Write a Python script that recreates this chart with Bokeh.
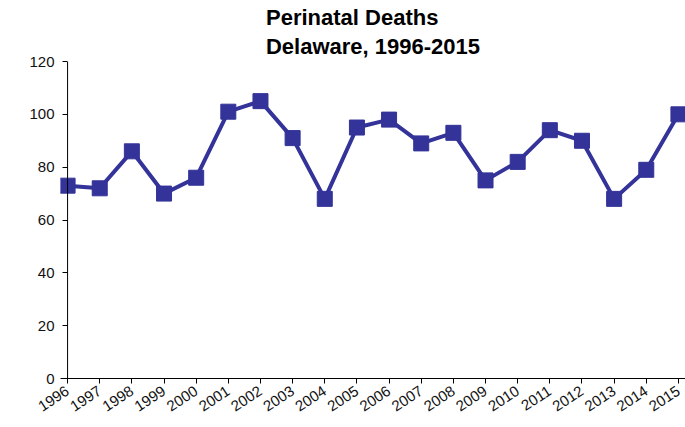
import math
from bokeh.plotting import figure
from bokeh.models import Range1d, FixedTicker, Span, ColumnDataSource
from bokeh.embed import file_html
from bokeh.resources import INLINE

years = list(range(1996, 2016))
deaths = [73, 72, 86, 70, 76, 101, 105, 91, 68, 95, 98, 89, 93, 75, 82, 94, 90, 68, 79, 100]
y_ticks = [0, 20, 40, 60, 80, 100, 120]

COLOR = "#333399"
FONT = "Liberation Sans"
PAD = 0.22

src = ColumnDataSource(dict(year=years, deaths=deaths))

p = figure(width=685, height=427, output_backend="svg", toolbar_location=None,
           x_range=Range1d(years[0] - PAD, years[-1] + PAD), y_range=Range1d(0, 120),
           min_border_left=60, min_border_right=0, min_border_top=0, min_border_bottom=49)

p.title.text = "Perinatal Deaths\nDelaware, 1996-2015"
p.title.align = "center"
p.title.text_font = FONT
p.title.text_font_size = "22px"
p.title.text_font_style = "bold"
p.title.text_color = "black"
p.title.text_line_height = 1.15
p.title.standoff = 5
p.title.offset = 0

p.line("year", "deaths", source=src, line_color=COLOR, line_width=4)
p.scatter("year", "deaths", source=src, marker="square", size=15,
          fill_color=COLOR, line_color=COLOR)

p.xgrid.visible = False
p.ygrid.visible = False
p.outline_line_color = None

# x axis
p.xaxis.ticker = FixedTicker(ticks=years)
p.xaxis.minor_tick_line_color = None
p.xaxis.major_tick_in = 0
p.xaxis.major_tick_out = 5
p.xaxis.major_label_orientation = 0.58
p.xaxis.major_label_text_font = FONT
p.xaxis.major_label_text_font_size = "15px"
p.xaxis.major_label_text_color = "#111111"
p.xaxis.axis_line_color = "black"
p.xaxis.major_tick_line_color = "black"
p.xaxis.major_label_standoff = 6

# y axis: line drawn as span at first year
p.yaxis.ticker = FixedTicker(ticks=y_ticks)
p.yaxis.minor_tick_line_color = None
p.yaxis.axis_line_color = None
p.yaxis.major_tick_in = 7
p.yaxis.major_tick_out = -2
p.yaxis.major_tick_line_color = "black"
p.yaxis.major_label_text_font = FONT
p.yaxis.major_label_text_font_size = "15px"
p.yaxis.major_label_text_color = "#111111"
p.yaxis.major_label_standoff = 6

p.add_layout(Span(location=years[0], dimension="height", line_color="black", line_width=1))

open("out.html", "w").write(file_html(p, INLINE))
